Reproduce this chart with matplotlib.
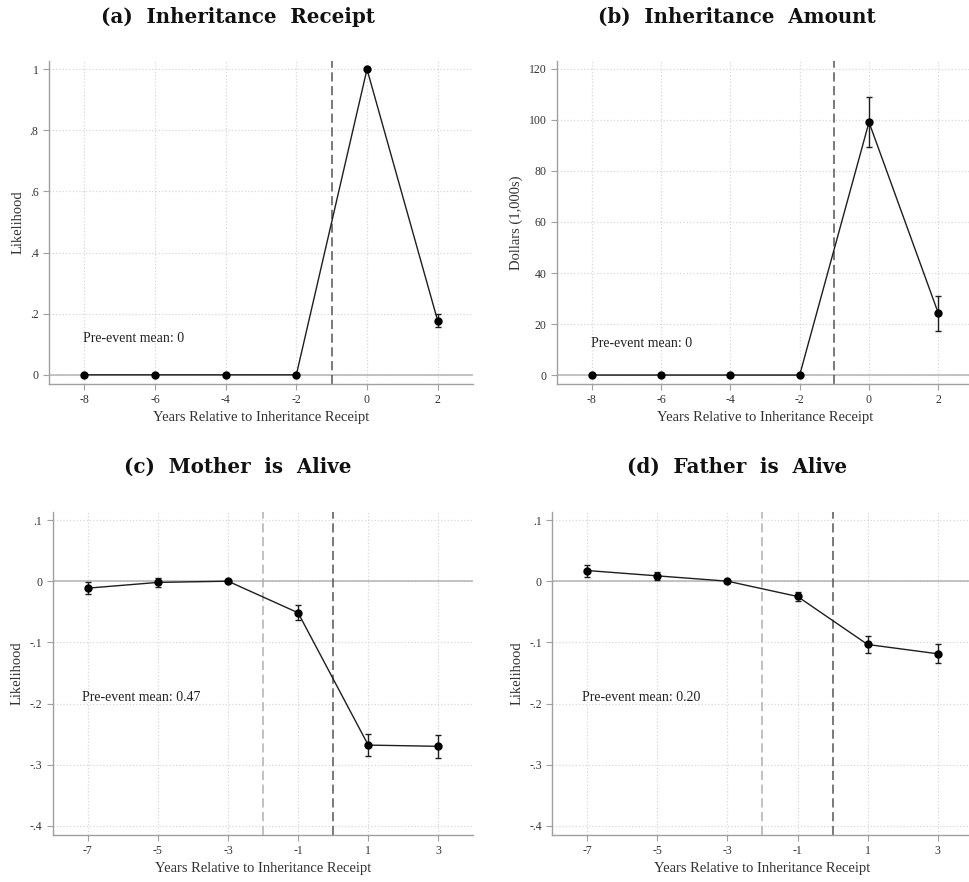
import numpy as np
import matplotlib
matplotlib.use("Agg")
import matplotlib.pyplot as plt

# panel (a): inheritance receipt
yrs_ab = [-8, -6, -4, -2, 0, 2]
receipt = [0, 0, 0, 0, 1.0, 0.177]
receipt_err = [0, 0, 0, 0, 0, 0.021]

# panel (b): inheritance amount, $1,000s
amount = [0, 0, 0, 0, 99.1, 24.2]
amount_err = [0, 0, 0, 0, 9.8, 6.9]

# panels (c), (d): parent alive
yrs_cd = [-7, -5, -3, -1, 1, 3]
mother = [-0.0114, -0.002, 0.0, -0.0517, -0.268, -0.270]
mother_err = [0.010, 0.0075, 0, 0.012, 0.018, 0.019]
father = [0.0174, 0.0087, 0.0, -0.025, -0.1035, -0.1187]
father_err = [0.0098, 0.0065, 0, 0.0076, 0.014, 0.0155]

titles = ["(a)  Inheritance  Receipt", "(b)  Inheritance  Amount",
          "(c)  Mother  is  Alive", "(d)  Father  is  Alive"]
pre_means = ["Pre-event mean: 0", "Pre-event mean: 0",
             "Pre-event mean: 0.47", "Pre-event mean: 0.20"]
xlab = "Years Relative to Inheritance Receipt"

serif = "Liberation Serif"
W, H = 969, 882
fig = plt.figure(figsize=(W / 100, H / 100), dpi=100)


def px_axes(l, r, t, b):
    return fig.add_axes([l / W, 1 - b / H, (r - l) / W, (b - t) / H])


def style(ax, xticks, yticks, ylabels, ylab):
    for s in ["top", "right"]:
        ax.spines[s].set_visible(False)
    for s in ["left", "bottom"]:
        ax.spines[s].set_color("#a0a0a0")
        ax.spines[s].set_linewidth(1.0)
    ax.set_xticks(xticks)
    ax.set_xticklabels([str(v) for v in xticks], fontfamily=serif, fontsize=8.5)
    ax.set_yticks(yticks)
    ax.set_yticklabels(ylabels, fontfamily=serif, fontsize=8.5)
    ax.tick_params(colors="#a0a0a0", labelcolor="#333333", length=4, width=0.8)
    ax.grid(True, color="#d8d8d8", linestyle=":", linewidth=0.9)
    ax.set_axisbelow(True)
    ax.axhline(0, color="#b4b4b4", lw=1.1, zorder=1)
    ax.set_xlabel(xlab, fontfamily=serif, fontsize=10.5, color="#333333", labelpad=3)
    ax.set_ylabel(ylab, fontfamily=serif, fontsize=10.5, color="#333333", labelpad=4)


def series(ax, x, y, e):
    ax.plot(x, y, color="#1e1e1e", lw=1.0, zorder=3)
    ax.errorbar(x, y, yerr=e, fmt="o", color="black", ms=5, elinewidth=1.0,
                capsize=2.5, capthick=1.0, ecolor="#1e1e1e", zorder=4)


def title(x, y, s):
    fig.text(x / W, 1 - y / H, s, family="DejaVu Serif", fontweight="bold",
             fontsize=14.3, ha="center", va="center", color="#111111")


# (a)
ax = px_axes(49, 473, 61, 384)
ax.set_xlim(-9, 3)
ax.set_ylim(-0.03, 1.027)
style(ax, yrs_ab, [0, 0.2, 0.4, 0.6, 0.8, 1.0], ["0", ".2", ".4", ".6", ".8", "1"], "Likelihood")
ax.axvline(-1, color="#555555", lw=1.1, ls=(0, (6, 3)), zorder=2)
series(ax, yrs_ab, receipt, receipt_err)
ax.text(-8.03, 0.12, pre_means[0], fontfamily=serif, fontsize=10, va="center", color="#222222")
title(238, 17, titles[0])

# (b)
ax = px_axes(557, 973, 61, 384)
ax.set_xlim(-9, 3)
ax.set_ylim(-3.5, 123.1)
style(ax, yrs_ab, [0, 20, 40, 60, 80, 100, 120], ["0", "20", "40", "60", "80", "100", "120"],
      "Dollars (1,000s)")
ax.axvline(-1, color="#555555", lw=1.1, ls=(0, (6, 3)), zorder=2)
series(ax, yrs_ab, amount, amount_err)
ax.text(-8.03, 12.4, pre_means[1], fontfamily=serif, fontsize=10, va="center", color="#222222")
title(737, 17, titles[1])

yt = [-0.4, -0.3, -0.2, -0.1, 0, 0.1]
yl = ["-.4", "-.3", "-.2", "-.1", "0", ".1"]

# (c)
ax = px_axes(52.7, 473.4, 511.7, 835)
ax.set_xlim(-8, 4)
ax.set_ylim(-0.415, 0.1136)
style(ax, yrs_cd, yt, yl, "Likelihood")
ax.axvline(-2, color="#b0b0b0", lw=1.1, ls=(0, (6, 3)), zorder=2)
ax.axvline(0, color="#555555", lw=1.1, ls=(0, (6, 3)), zorder=2)
series(ax, yrs_cd, mother, mother_err)
ax.text(-7.15, -0.19, pre_means[2], fontfamily=serif, fontsize=10, va="center", color="#222222")
title(238, 467, titles[2])

# (d)
ax = px_axes(552.3, 972.7, 511.7, 835)
ax.set_xlim(-8, 4)
ax.set_ylim(-0.415, 0.1136)
style(ax, yrs_cd, yt, yl, "Likelihood")
ax.axvline(-2, color="#b0b0b0", lw=1.1, ls=(0, (6, 3)), zorder=2)
ax.axvline(0, color="#555555", lw=1.1, ls=(0, (6, 3)), zorder=2)
series(ax, yrs_cd, father, father_err)
ax.text(-7.15, -0.19, pre_means[3], fontfamily=serif, fontsize=10, va="center", color="#222222")
title(737, 467, titles[3])

fig.savefig("out.png", dpi=100)
